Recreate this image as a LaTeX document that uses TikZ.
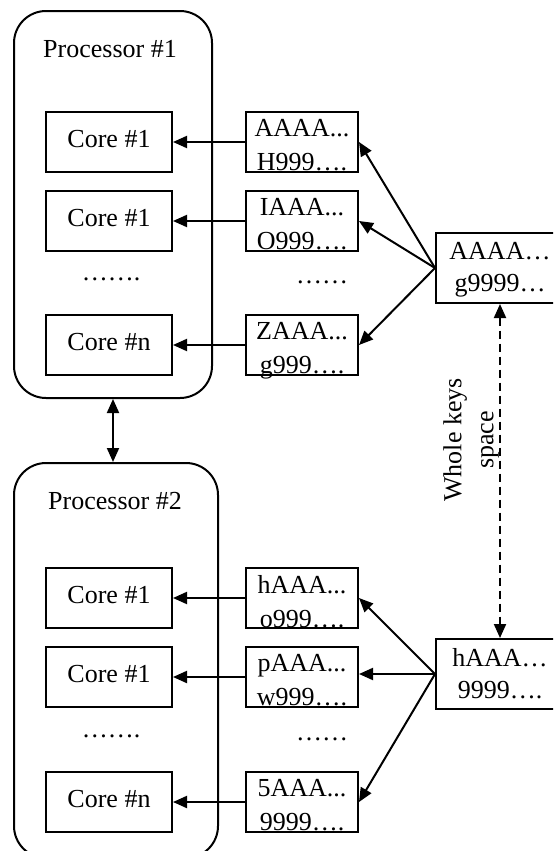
\documentclass[tikz,border=0pt]{standalone}
\usepackage{fontspec}
\setmainfont{Liberation Serif}
\usetikzlibrary{arrows.meta}

\tikzset{
  proc/.style={draw, line width=1pt, rounded corners=16pt, inner sep=0pt},
  core/.style={draw, line width=1pt, minimum width=63pt, minimum height=30pt,
    inner sep=0pt, text height=8.5pt, text depth=3pt},
  keybox/.style={draw, line width=1pt, minimum width=56pt, minimum height=30pt, inner sep=0pt},
  rangebox/.style={draw, line width=1pt, minimum width=64pt, minimum height=35pt, inner sep=0pt},
  keytext/.style={align=center, inner sep=0pt, anchor=north, font=\fontsize{13}{17}\selectfont},
  rangetext/.style={align=center, inner sep=0pt, anchor=north, font=\fontsize{13}{16}\selectfont},
  link/.style={-{Triangle[length=7pt,width=6pt]}, line width=1pt},
  twoway/.style={{Triangle[length=7pt,width=6pt]}-{Triangle[length=7pt,width=6pt]}, line width=1pt},
}

\begin{document}
\begin{tikzpicture}[x=0.5pt,y=-0.5pt,font=\fontsize{13}{15}\selectfont]
  \useasboundingbox (0,0) rectangle (553,851);
  \clip (0,0) rectangle (553,851);
  % processors
  \node[proc, minimum width=99pt, minimum height=193.5pt] (p1) at (113,204.5) {};
  \node[proc, minimum width=102pt, minimum height=197.5pt] (p2) at (116,660.5) {};
  \node[anchor=base, inner sep=0pt] (p1name) at (110,57) {Processor \#1};
  \node[anchor=base, inner sep=0pt] (p2name) at (115,509) {Processor \#2};
  % cores
  \node[core] (c11) at (109,142) {Core \#1};
  \node[core] (c12) at (109,221) {Core \#1};
  \node[core] (c1n) at (109,345) {Core \#n};
  \node[core] (c21) at (109,598) {Core \#1};
  \node[core] (c22) at (109,677) {Core \#1};
  \node[core] (c2n) at (109,802) {Core \#n};
  \node[anchor=base, inner sep=0pt] (c1dots) at (111,280) {…….};
  \node[anchor=base, inner sep=0pt] (c2dots) at (111,737) {…….};
  % key ranges
  \node[keybox] (k11) at (302,142) {};
  \node[keybox] (k12) at (302,221) {};
  \node[keybox] (k1n) at (302,345) {};
  \node[keybox] (k21) at (302,598) {};
  \node[keybox] (k22) at (302,677) {};
  \node[keybox] (k2n) at (302,802) {};
  \node[keytext] (t11) at ([yshift=-4pt]k11.north) {AAAA...\\H999….};
  \node[keytext] (t12) at ([yshift=-4pt]k12.north) {IAAA...\\O999….};
  \node[keytext] (t1n) at ([yshift=-4pt]k1n.north) {ZAAA...\\g999….};
  \node[keytext] (t21) at ([yshift=-4pt]k21.north) {hAAA...\\o999….};
  \node[keytext] (t22) at ([yshift=-4pt]k22.north) {pAAA...\\w999….};
  \node[keytext] (t2n) at ([yshift=-4pt]k2n.north) {5AAA...\\9999….};
  \node[anchor=base, inner sep=0pt] (k1dots) at (322,283) {……};
  \node[anchor=base, inner sep=0pt] (k2dots) at (322,740) {……};
  % whole ranges
  \node[rangebox] (r1) at (500,268) {};
  \node[rangebox] (r2) at (500,674) {};
  \node[rangetext] (tr1) at ([yshift=-5pt]r1.north) {AAAA…\\g9999…};
  \node[rangetext] (tr2) at ([yshift=-5pt]r2.north) {hAAA…\\9999….};
  \node[rotate=90, align=center, inner sep=0pt, font=\fontsize{13}{16}\selectfont] (space) at (471,440) {Whole keys\\space};
  % connectors
  \foreach \k/\c in {k11/c11, k12/c12, k1n/c1n, k21/c21, k22/c22, k2n/c2n}
    \draw[link] (\k.west) -- (\k.west -| \c.east);
  \foreach \k in {k11, k12, k1n}
    \draw[link] (r1.west) -- (\k.east);
  \draw[link] (r2.west) -- (k21.east);
  \draw[link] (r2.west) -- (r2.west -| k22.east);
  \draw[link] (r2.west) -- (k2n.east);
  \draw[twoway, dash pattern=on 4pt off 2.5pt] (r1.south) -- (r2.north);
  \draw[twoway] (p1.south) -- (p1.south |- p2.north);
\end{tikzpicture}
\end{document}
